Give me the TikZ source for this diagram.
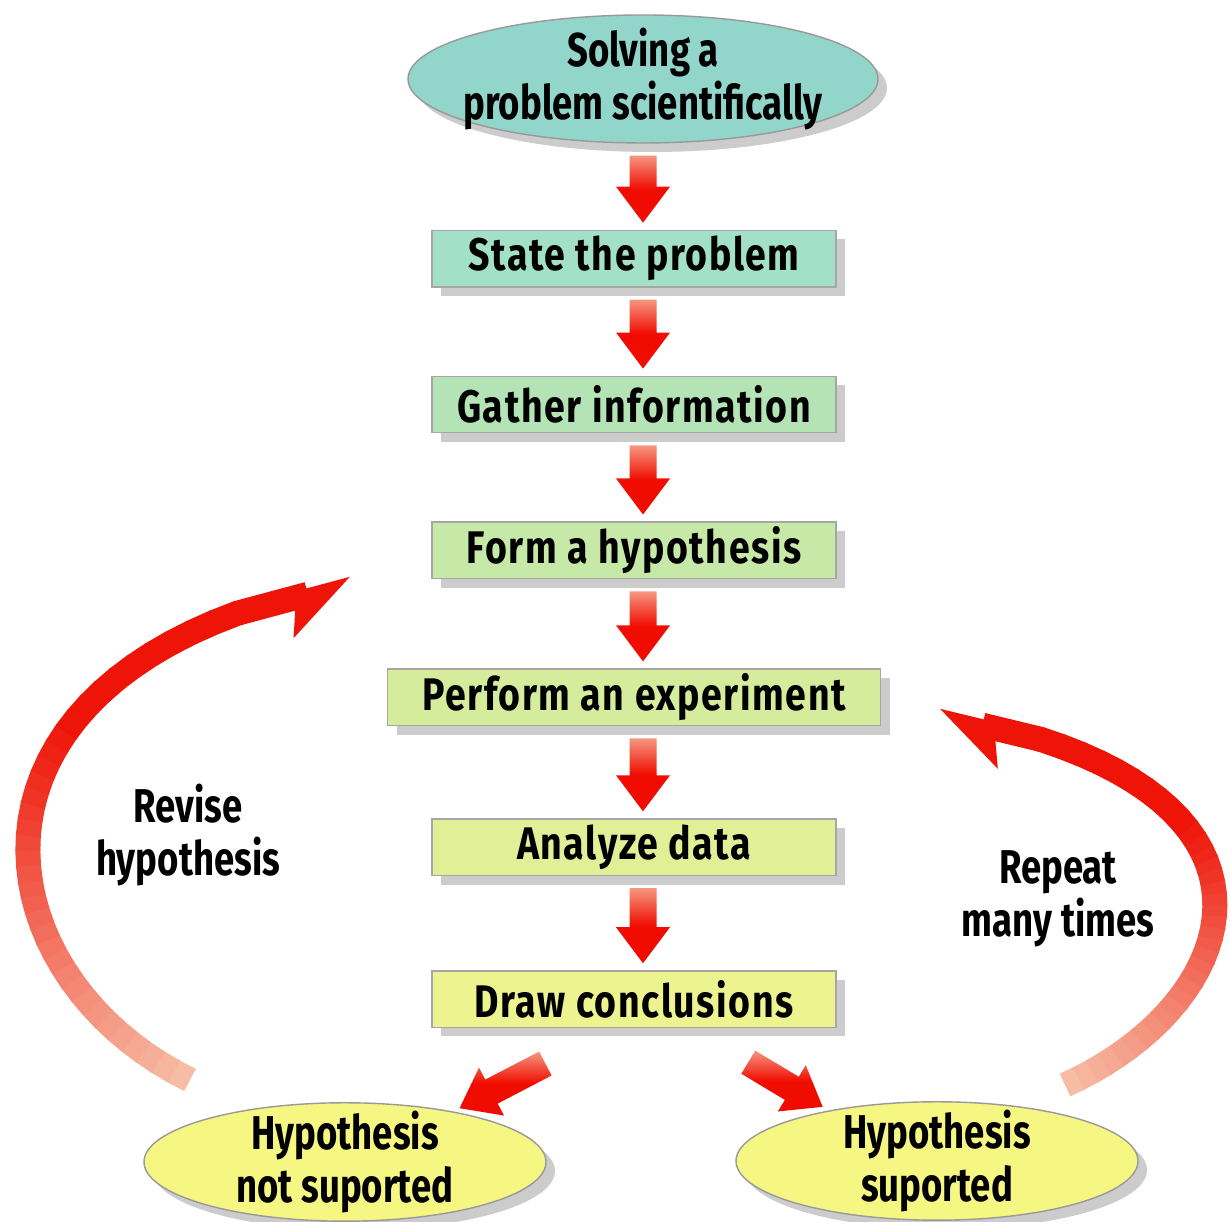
\documentclass[tikz,border=0pt]{standalone}
\usepackage{fontspec}
\setmainfont{Fira Sans}[FakeStretch=0.82]
\newfontfamily\stepfam{Fira Sans}[FakeStretch=0.82, LetterSpace=3.5]
\newfontfamily\ovalfam{Fira Sans}[FakeStretch=0.77]
\usetikzlibrary{arrows.meta,positioning,shapes.geometric,calc,shadows}

\definecolor{topteal}{RGB}{146,213,202}
\definecolor{stA}{RGB}{163,224,200}
\definecolor{stB}{RGB}{180,227,182}
\definecolor{stC}{RGB}{198,233,168}
\definecolor{stD}{RGB}{213,236,156}
\definecolor{stE}{RGB}{225,239,150}
\definecolor{stF}{RGB}{237,243,143}
\definecolor{hypyellow}{RGB}{246,246,130}
\definecolor{arrred}{RGB}{240,12,0}
\definecolor{arrtail}{RGB}{246,150,128}
\definecolor{loopred}{RGB}{238,20,8}
\definecolor{looptail}{RGB}{246,188,164}

\newcommand{\boxfont}{\stepfam\fontsize{13}{15}\selectfont\bfseries}
\newcommand{\ellfont}{\ovalfam\fontsize{13.5}{15}\selectfont\bfseries}

% thick shaded arrow between two points
\newcommand{\fatarrow}[2]{%
  \coordinate (fa-s) at ($#1!0.12cm!#2$);
  \coordinate (fa-e) at ($#2!0.07cm!#1$);
  \coordinate (fa-h) at ($(fa-e)!0.36cm!(fa-s)$);
  \shade[fat]
    ($(fa-s)!0.135cm!90:(fa-e)$) -- ($(fa-h)!0.135cm!90:(fa-e)$) --
    ($(fa-h)!0.27cm!90:(fa-e)$) -- (fa-e) --
    ($(fa-h)!0.27cm!-90:(fa-e)$) -- ($(fa-h)!0.135cm!-90:(fa-e)$) --
    ($(fa-s)!0.135cm!-90:(fa-e)$) -- cycle;}

\begin{document}
\begin{tikzpicture}[
  node distance = 0.88cm,
  shadowed/.style = {drop shadow={shadow xshift=0.09cm, shadow yshift=-0.09cm,
                   fill=black!40, opacity=0.5}},
  start/.style  = {ellipse, draw=black!40, fill=topteal, minimum width=4.7cm,
                   minimum height=1.28cm, inner xsep=-0.2cm, inner ysep=-0.06cm,
                   align=center, font=\ellfont, shadowed},
  stepbox/.style= {rectangle, draw=black!35, fill=#1, minimum height=0.565cm,
                   minimum width=4.04cm, inner sep=0pt, font=\boxfont, shadowed},
  result/.style = {ellipse, draw=black!40, fill=hypyellow, minimum width=4.02cm,
                   minimum height=1.13cm, inner xsep=-0.2cm, inner ysep=-0.09cm,
                   align=center, font=\ellfont, shadowed},
  lbl/.style    = {align=center, font=\ellfont},
  fat/.style    = {top color=arrtail, bottom color=arrred, middle color=arrred},
  band/.style   = {line width=0.25cm, shorten >=-0.5pt}
]
\useasboundingbox (0,0) rectangle (12.30,12.22);

%%% ---- MAIN COLUMN ----
\node[start] (sol) at (6.43,11.43)        {Solving a\\problem scientifically};
\coordinate (axis) at (sol.south);
\node[stepbox=stA, below=0.86cm of sol, xshift=-0.09cm] (state)   {State the problem};
\node[stepbox=stB, below=of state]        (gather)  {Gather information};
\node[stepbox=stC, below=of gather]       (hyp)     {Form a hypothesis};
\node[stepbox=stD, below=0.89cm of hyp, minimum width=4.93cm] (exper) {Perform an experiment};
\node[stepbox=stE, below=0.92cm of exper] (data)    {Analyze data};
\node[stepbox=stF, below=0.94cm of data]  (concl)   {Draw conclusions};

\fatarrow{(sol.south)}{(axis |- state.north)}
\fatarrow{(axis |- state.south)}{(axis |- gather.north)}
\fatarrow{(axis |- gather.south)}{(axis |- hyp.north)}
\fatarrow{(axis |- hyp.south)}{(axis |- exper.north)}
\fatarrow{(axis |- exper.south)}{(axis |- data.north)}
\fatarrow{(axis |- data.south)}{(axis |- concl.north)}

%%% ---- OUTCOMES ----
\node[result] (notsup) at (3.45,0.60) {Hypothesis\\not suported};
\node[result] (sup)    at (9.37,0.61) {Hypothesis\\suported};

\coordinate (forkL) at (5.56,1.64);
\coordinate (forkR) at (7.38,1.66);
\fatarrow{(forkL)}{(notsup.25)}
\fatarrow{(forkR)}{(sup.155)}

%%% ---- LOOPS ----
\coordinate (revS) at (1.90,1.42);
\coordinate (revE) at (3.50,6.39);
\path (revS) .. controls (-0.3,2.5) and (-0.7,5.6) .. (revE)
  foreach \i in {0,...,40} {coordinate[pos=\i/40] (rv\i)};
\foreach \i in {0,...,35} {
  \pgfmathtruncatemacro\j{\i+1}
  \pgfmathsetmacro\c{min(100,100*\i/26)}
  \draw[band, loopred!\c!looptail] (rv\i) -- (rv\j);
}
\draw[band, loopred, -{Stealth[harpoon, swap, length=0.6cm, width=0.75cm, inset=0.12cm]}]
  (rv36) -- (rv40);

\coordinate (repS) at (10.65,1.37);
\coordinate (repE) at (9.40,5.07);
\path (repS) .. controls (12.5,2.2) and (13.2,4.4) .. (repE)
  foreach \i in {0,...,40} {coordinate[pos=\i/40] (rp\i)};
\foreach \i in {0,...,35} {
  \pgfmathtruncatemacro\j{\i+1}
  \pgfmathsetmacro\c{min(100,100*\i/26)}
  \draw[band, loopred!\c!looptail] (rp\i) -- (rp\j);
}
\draw[band, loopred, -{Stealth[harpoon, length=0.6cm, width=0.75cm, inset=0.12cm]}]
  (rp36) -- (rp40);

\node[lbl] (revlbl) at (1.88,3.87)  {Revise\\hypothesis};
\node[lbl] (replbl) at (10.58,3.23) {Repeat\\many times};
\end{tikzpicture}
\end{document}
